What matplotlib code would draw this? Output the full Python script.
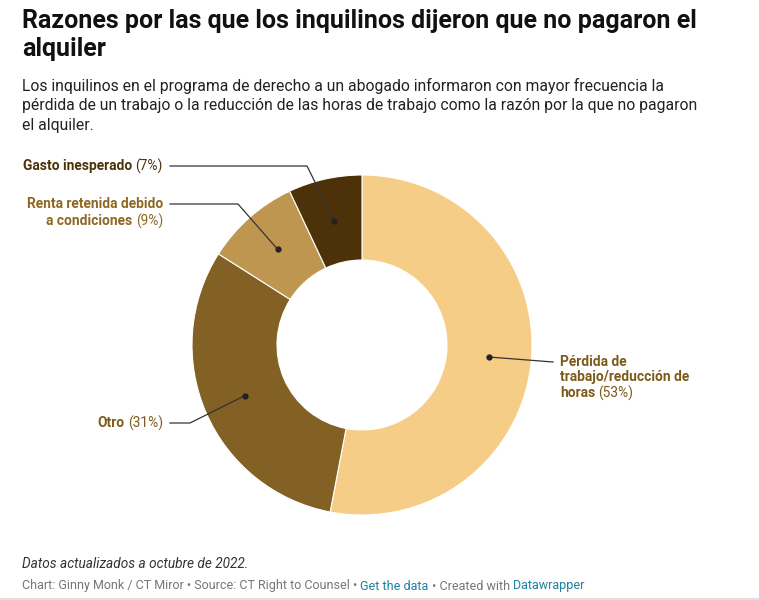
import matplotlib
matplotlib.use("Agg")
import matplotlib.pyplot as plt
import numpy as np

plt.rcParams['font.family'] = ['Roboto', 'DejaVu Sans']

# data
names = ['Pérdida de\ntrabajo/reducción de\nhoras', 'Otro', 'Renta retenida debido\na condiciones', 'Gasto inesperado']
values = [53, 31, 9, 7]
colors = ['#f6cd86', '#836024', '#be9650', '#4d3209']
label_colors = ['#7d5a1a', '#7d5a1a', '#8e6722', '#4d3209']

W, H = 759, 600
fig = plt.figure(figsize=(W / 100, H / 100), dpi=100)
ax = fig.add_axes([0, 0, 1, 1])

cx, cy, R = 362, 255, 170
wedges, _ = ax.pie(values, colors=colors, startangle=90, counterclock=False,
                   center=(cx, cy), radius=R, frame=True,
                   wedgeprops=dict(width=R * 0.5, edgecolor='white', linewidth=0.8))
ax.set_xlim(0, W)
ax.set_ylim(0, H)
ax.set_aspect('equal')
ax.axis('off')

# leader lines: elbow and end point (pixels, y up)
lab = {
    0: dict(elbow=None, end=(553, 238)),
    1: dict(elbow=(190, 177), end=(170, 177)),
    2: dict(elbow=(238, 396), end=(170, 396)),
    3: dict(elbow=(307, 434), end=(170, 434)),
}

for i, w in enumerate(wedges):
    mid = np.deg2rad((w.theta1 + w.theta2) / 2)
    rr = R * 0.75
    px, py = cx + rr * np.cos(mid), cy + rr * np.sin(mid)
    ax.plot(px, py, 'o', color='#222222', ms=3.5, zorder=5)
    L = lab[i]
    if L['elbow'] is None:
        ax.plot([px, L['end'][0]], [py, L['end'][1]], color='#333333', lw=0.9, zorder=4)
    else:
        ex, ey = L['elbow']
        ax.plot([px, ex, L['end'][0]], [py, ey, L['end'][1]], color='#333333', lw=0.9, zorder=4)

lbl_size = 9.9
# Pérdida (multi-line, left aligned)
lines = names[0].split('\n')
for k, ln in enumerate(lines):
    y = 238 - k * 15.5
    t = ax.text(560, y, ln, ha='left', va='center', fontsize=lbl_size, fontweight='bold', color=label_colors[0])
    if k == len(lines) - 1:
        fig.canvas.draw()
        bb = t.get_window_extent()
        ax.text(bb.x1 + 3, y, '(%d%%)' % values[0], ha='left', va='center', fontsize=lbl_size, color=label_colors[0])


def right_label(x, y, name, pct, color):
    p = ax.text(x, y, '(%d%%)' % pct, ha='right', va='center', fontsize=lbl_size, color=color)
    fig.canvas.draw()
    bb = p.get_window_extent()
    ax.text(bb.x0 - 3, y, name, ha='right', va='center', fontsize=lbl_size, fontweight='bold', color=color)


right_label(163, 177, names[1], values[1], label_colors[1])
r_lines = names[2].split('\n')
ax.text(163, 396, r_lines[0], ha='right', va='center', fontsize=lbl_size, fontweight='bold', color=label_colors[2])
right_label(163, 379, r_lines[1], values[2], label_colors[2])
right_label(163, 434, names[3], values[3], label_colors[3])

# titles
fig.text(22 / W, 1 - 9 / H, 'Razones por las que los inquilinos dijeron que no pagaron el\nalquiler',
         ha='left', va='top', fontsize=18, fontweight='bold', color='#111111', linespacing=1.2)
fig.text(22 / W, 1 - 78 / H,
         'Los inquilinos en el programa de derecho a un abogado informaron con mayor frecuencia la\n'
         'pérdida de un trabajo o la reducción de las horas de trabajo como la razón por la que no pagaron\n'
         'el alquiler.',
         ha='left', va='top', fontsize=11.33, color='#222222', linespacing=1.36)

fig.text(22 / W, 1 - 564 / H, 'Datos actualizados a octubre de 2022.', ha='left', va='center',
         fontsize=9.8, style='italic', color='#333333')

parts = [('Chart: Ginny Monk / CT Miror • Source: CT Right to Counsel • ', '#777777'),
         ('Get the data', '#1d81a2'), (' • Created with ', '#777777'), ('Datawrapper', '#1d81a2')]
x = 22
fig.canvas.draw()
for s, c in parts:
    t = fig.text(x / W, 1 - 586 / H, s, ha='left', va='center', fontsize=8.97, color=c)
    fig.canvas.draw()
    x = t.get_window_extent().x1

ax.axhline(1.5, color='#e0e0e0', lw=1.5)

fig.savefig('out.png', dpi=100, facecolor='white')
